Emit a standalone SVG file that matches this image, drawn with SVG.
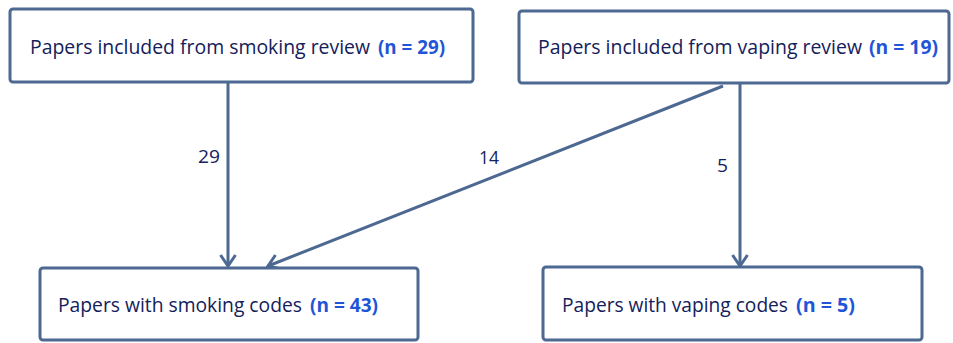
<svg xmlns="http://www.w3.org/2000/svg" width="953" height="343" viewBox="0 0 953 343">
<defs>
<style>
.box{fill:#ffffff;stroke:#4d6891;stroke-width:3}
.t{font-family:"Open Sans","Liberation Sans",sans-serif;font-size:20px;fill:#14215a}
.n{font-family:"Open Sans","Liberation Sans",sans-serif;font-size:20px;font-weight:bold;fill:#1f55d6}
.c{stroke:#4d6891;stroke-width:3;fill:none}
.lbl{font-family:"Open Sans","Liberation Sans",sans-serif;font-size:19px;fill:#14215a}
</style>
<marker id="arr" markerWidth="14" markerHeight="18" viewBox="0 0 14 18" refX="12" refY="9" orient="auto" markerUnits="userSpaceOnUse">
<path d="M1,1.5 L12,9 L1,16.5" fill="none" stroke="#4d6891" stroke-width="3"/>
</marker>
</defs>
<rect width="953" height="343" fill="#ffffff"/>
<g id="connectors">
<line class="c" x1="228" y1="83" x2="228" y2="266" marker-end="url(#arr)"/>
<line class="c" x1="723" y1="86" x2="268" y2="266" marker-end="url(#arr)"/>
<line class="c" x1="740" y1="84" x2="740" y2="266" marker-end="url(#arr)"/>
<text class="lbl" x="198" y="163" textLength="22" lengthAdjust="spacingAndGlyphs">29</text>
<text class="lbl" x="479" y="164" textLength="20" lengthAdjust="spacingAndGlyphs">14</text>
<text class="lbl" x="717" y="172" textLength="11" lengthAdjust="spacingAndGlyphs">5</text>
</g>
<g id="smoking-review">
<rect class="box" x="10" y="9" width="463" height="73" rx="3"/>
<text class="t" x="30" y="54" textLength="340" lengthAdjust="spacingAndGlyphs">Papers included from smoking review</text>
<text class="n" x="378" y="54" textLength="67" lengthAdjust="spacingAndGlyphs">(n = 29)</text>
</g>
<g id="vaping-review">
<rect class="box" x="519" y="11" width="430" height="72" rx="3"/>
<text class="t" x="538" y="54" textLength="324" lengthAdjust="spacingAndGlyphs">Papers included from vaping review</text>
<text class="n" x="869" y="54" textLength="69" lengthAdjust="spacingAndGlyphs">(n = 19)</text>
</g>
<g id="smoking-codes">
<rect class="box" x="40" y="268" width="378" height="72" rx="3"/>
<text class="t" x="58" y="312" textLength="244" lengthAdjust="spacingAndGlyphs">Papers with smoking codes</text>
<text class="n" x="310" y="312" textLength="68" lengthAdjust="spacingAndGlyphs">(n = 43)</text>
</g>
<g id="vaping-codes">
<rect class="box" x="543" y="267" width="379" height="73" rx="3"/>
<text class="t" x="562" y="312" textLength="226" lengthAdjust="spacingAndGlyphs">Papers with vaping codes</text>
<text class="n" x="796" y="312" textLength="59" lengthAdjust="spacingAndGlyphs">(n = 5)</text>
</g>
</svg>
